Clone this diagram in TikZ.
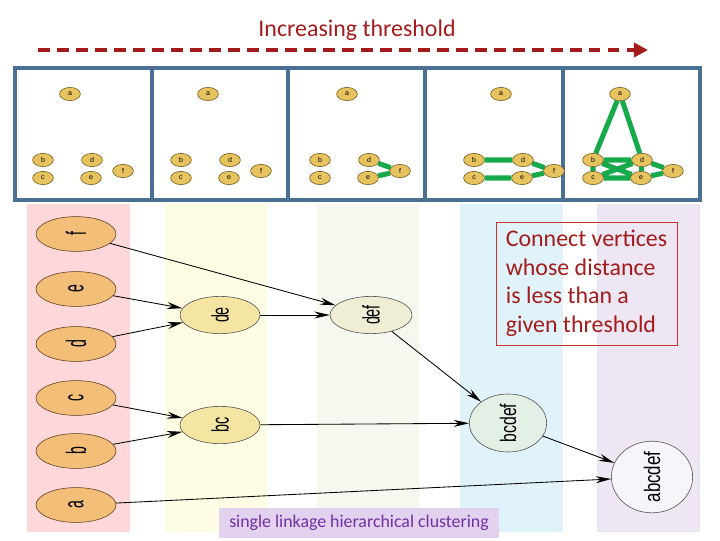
\documentclass[tikz,border=0pt]{standalone}
\usepackage{fontspec}
\setmainfont{Carlito}
\newfontfamily\labelfont{Liberation Sans}
\usetikzlibrary{positioning,arrows.meta,shapes.geometric,backgrounds}

\definecolor{frameblue}{HTML}{4A7096}
\definecolor{threshred}{HTML}{A31B1B}
\definecolor{boxred}{HTML}{C8302A}
\definecolor{edgegreen}{HTML}{17AA4C}
\definecolor{vtxgold}{HTML}{E6C35E}
\definecolor{vtxline}{HTML}{6E5A1E}
\definecolor{leaforange}{HTML}{F2BE78}
\definecolor{leafline}{HTML}{5A3A1A}
\definecolor{pairyellow}{HTML}{F4E6A2}
\definecolor{defcream}{HTML}{EFEDD4}
\definecolor{bcdefmint}{HTML}{E4EFE6}
\definecolor{allwhite}{HTML}{F8F5FA}
\definecolor{colpink}{HTML}{FDD7D9}
\definecolor{colyellow}{HTML}{FEFDE4}
\definecolor{colgreen}{HTML}{F5F8EF}
\definecolor{colblue}{HTML}{E1F3FA}
\definecolor{collav}{HTML}{EEE6F3}
\definecolor{labellav}{HTML}{E2D2F0}
\definecolor{labelpurple}{HTML}{7030A0}

% rotated, squashed label text
\newcommand{\rlab}[2]{\rotatebox{90}{\scalebox{#1}[1]{#2}}}

\tikzset{
  frame/.style={frameblue, line width=2.8pt},
  vtx/.style={ellipse, draw=vtxline, fill=vtxgold, thin, minimum width=0.52cm,
    minimum height=0.33cm, inner sep=0pt, font=\labelfont\fontsize{5}{5}\selectfont},
  gedge/.style={edgegreen, line width=3.6pt},
  leaf/.style={ellipse, draw=leafline, fill=leaforange, minimum width=2cm,
    minimum height=0.87cm, inner sep=0pt, font=\labelfont\fontsize{20}{20}\selectfont},
  clus/.style={ellipse, draw=black!70, minimum width=2cm, minimum height=0.93cm,
    inner sep=0pt, font=\labelfont\fontsize{17}{17}\selectfont},
  merge/.style={-{Stealth[length=11pt,width=5pt]}, black, line width=0.6pt}
}

\begin{document}
\begin{tikzpicture}[x=0.025cm, y=-0.025cm]
    \useasboundingbox (0,0) rectangle (720,540);

    % Threshold arrow
    \node[font=\fontsize{17}{20}\selectfont, text=threshred] (title) at (357,30) {Increasing threshold};
    \coordinate (tl) at (38,50);
    \coordinate (tr) at (648,50);
    \draw[threshred, line width=2.8pt, dash pattern=on 8.5pt off 5pt,
      -{Triangle[length=10pt,width=10pt]}] (tl) -- (tr);

    % Threshold graphs
    \draw[frame] (15,68) rectangle (700,200);
    \foreach \x in {152,288,425,563}
      \draw[frame] (\x,68) -- (\x,200);
    \foreach \bx [count=\i] in {43,181,320,474,593} {
      \node[vtx] (a\i) at (\bx+27,94) {a};
      \node[vtx] (b\i) at (\bx,160) {b};
      \node[vtx] (c\i) at (\bx,178) {c};
      \node[vtx] (d\i) at (\bx+49,160) {d};
      \node[vtx] (e\i) at (\bx+48,178) {e};
      \node[vtx] (f\i) at (\bx+80,171) {f};
    }
    \begin{scope}[on background layer]
      \draw[gedge] (d3) -- (f3) (e3) -- (f3);
      \draw[gedge] (b4) -- (d4) (c4) -- (e4) (d4) -- (f4) (e4) -- (f4);
      \draw[gedge] (a5) -- (b5) (a5) -- (d5) (b5) -- (d5) (c5) -- (e5)
        (b5) -- (e5) (c5) -- (d5) (d5) -- (f5) (e5) -- (f5)
        (b5) -- (c5) (d5) -- (e5);
    \end{scope}

    % Dendrogram levels
    \fill[colpink] (27,204) rectangle (130,532);
    \fill[colyellow] (165,204) rectangle (267,532);
    \fill[colgreen] (317,204) rectangle (419,532);
    \fill[colblue] (460,204) rectangle (563,532);
    \fill[collav] (597,204) rectangle (700,532);

    \node[leaf] (f) at (76,234) {\rlab{0.5}{f}};
    \node[leaf] (e) at (76,289) {\rlab{0.5}{e}};
    \node[leaf] (d) at (76,344) {\rlab{0.5}{d}};
    \node[leaf] (c) at (76,398) {\rlab{0.5}{c}};
    \node[leaf] (b) at (76,451) {\rlab{0.5}{b}};
    \node[leaf] (a) at (76,505) {\rlab{0.5}{a}};

    \node[clus, fill=pairyellow] (de) at (220,315) {\rlab{0.6}{de}};
    \node[clus, fill=pairyellow] (bc) at (220,425) {\rlab{0.6}{bc}};
    \node[clus, fill=defcream, minimum width=2.05cm] (def) at (371,315) {\rlab{0.6}{def}};
    \node[clus, fill=bcdefmint, minimum width=1.93cm, minimum height=1.45cm,
      font=\labelfont\fontsize{16}{16}\selectfont] (bcdef) at (508,423) {\rlab{0.7}{bcdef}};
    \node[clus, fill=allwhite, minimum width=2.03cm, minimum height=1.78cm,
      font=\labelfont\fontsize{16}{16}\selectfont] (abcdef) at (652,477) {\rlab{0.75}{abcdef}};

    \draw[merge] (e) -- (de);
    \draw[merge] (d) -- (de);
    \draw[merge] (c) -- (bc);
    \draw[merge] (b) -- (bc);
    \draw[merge] (f) -- (def);
    \draw[merge] (de) -- (def);
    \draw[merge] (bc) -- (bcdef);
    \draw[merge] (def) -- (bcdef);
    \draw[merge] (bcdef) -- (abcdef);
    \draw[merge] (a) -- (abcdef);

    % Notes
    \node[draw=boxred, thin, text=threshred, align=left, minimum width=4.525cm,
      minimum height=3.075cm, font=\fontsize{17}{20.3}\selectfont] (note) at (586.5,283.5)
      {Connect vertices\\whose distance\\is less than a\\given threshold};
    \node[fill=labellav, text=labelpurple, minimum width=7cm, minimum height=0.75cm,
      font=\fontsize{12.7}{15}\selectfont] (caption) at (359,523)
      {single linkage hierarchical clustering};
\end{tikzpicture}
\end{document}
